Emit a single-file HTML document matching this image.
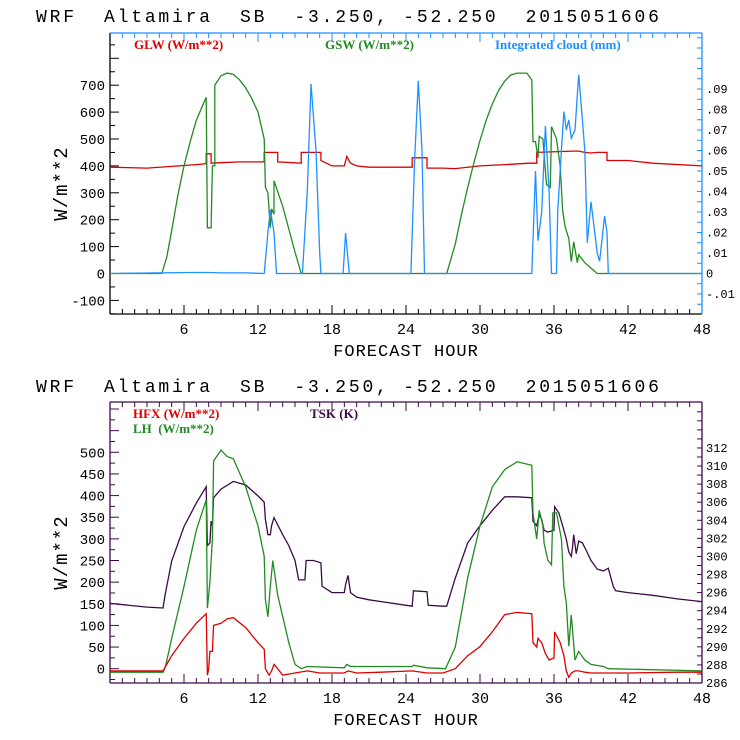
<!DOCTYPE html>
<html><head><meta charset="utf-8"><style>
body{margin:0;background:#fff;width:740px;height:740px;overflow:hidden}
svg{display:block}
.mono{font-family:"Liberation Mono","DejaVu Sans Mono",monospace}
.serif{font-family:"Liberation Serif",serif;font-weight:bold}
</style></head><body>
<svg id="c" width="740" height="740" xmlns="http://www.w3.org/2000/svg"></svg>
<script>
// ---------- data ----------
const hourTicks=[6,12,18,24,30,36,42,48];
const topLeftTicks=[-100,0,100,200,300,400,500,600,700];
const topRightTicks=[-0.01,0,0.01,0.02,0.03,0.04,0.05,0.06,0.07,0.08,0.09];
const topRightLabels=["-.01","0",".01",".02",".03",".04",".05",".06",".07",".08",".09"];
const botLeftTicks=[0,50,100,150,200,250,300,350,400,450,500];
const botRightTicks=[286,288,290,292,294,296,298,300,302,304,306,308,310,312];
const glwHours=[0,3,5,7,7.8,7.8,8.2,8.2,9,10.5,12.5,12.5,13.6,13.6,15.5,15.5,17.1,17.1,18,19,19.2,19.5,20,21,24.5,24.5,25.7,25.7,27,28,30,32,34,34.6,34.6,37.5,38,38.5,39,39.5,40.3,40.3,42,44,48];
const glwVals=[395,392,398,405,408,445,445,410,412,415,415,450,450,415,410,450,450,420,400,400,435,410,400,395,395,430,430,392,392,390,400,405,410,410,450,455,455,450,448,450,450,420,420,410,400];
const gswHours=[0,4.2,4.6,5,5.5,6,6.5,7,7.8,7.9,8.2,8.3,8.5,8.5,9,9.5,10,10.5,11,11.5,12,12.5,12.6,12.8,13,13.1,13.3,13.3,14,15,15.5,27.3,28,28.5,29,29.5,30,30.5,31,31.5,32,32.5,33,33.8,34.2,34.3,34.5,34.7,34.8,35.1,35.2,35.4,35.7,35.8,36.2,36.5,36.7,36.9,37.2,37.4,37.6,37.9,38,38.5,39,39.5,48];
const gswVals=[0,0,60,160,290,400,490,570,655,170,170,400,400,700,735,745,740,720,690,650,600,500,320,300,170,240,220,345,250,80,0,0,110,220,320,410,495,570,630,680,715,738,745,745,720,490,490,430,510,500,440,330,320,546,500,400,236,174,130,44,118,40,70,40,20,0,0];
const cloudHours=[0,6.5,8,9,11,12.5,12.8,13,13.3,13.5,15.6,16,16.3,16.7,17,17.1,18.9,19.1,19.4,24.4,24.7,25,25.3,25.5,34.2,34.5,34.7,35,35.3,35.6,35.8,36.2,36.3,36.6,36.8,37,37.2,37.4,37.7,38,38.3,38.5,38.7,39,39.2,39.5,39.7,40.1,40.3,40.4,48];
const cloudVals=[0,0.0005,0.0005,0.0003,0.0003,0,0.02,0.031,0.02,0,0,0.04,0.0925,0.06,0.01,0,0,0.0197,0,0,0.055,0.094,0.06,0,0,0.05,0.016,0.03,0.072,0.04,0,0,0.03,0.06,0.079,0.07,0.075,0.066,0.07,0.097,0.075,0.06,0.015,0.035,0.025,0.01,0.006,0.028,0.02,0,0];
const hfxHours=[0,4.3,4.5,5,6,7,7.8,7.9,8,8.1,8.3,8.4,9,9.5,10,11,12,12.5,12.6,12.9,13.1,13.3,13.6,14,15,16,17,19,19.3,20,22,24.5,25.7,27,28,29,30,31,32,33,34.2,34.3,34.6,34.7,35,35.3,35.6,36,36.05,36.5,36.8,37,37.2,37.4,37.7,38,38.5,39,42,46,48];
const hfxVals=[-5,-5,5,30,70,105,127,-15,0,40,40,100,105,115,118,95,60,45,0,-15,-5,10,0,-15,-10,-5,-10,-10,-5,-10,-8,-5,-10,-10,0,30,51,85,125,130,127,60,50,70,60,35,20,25,85,60,30,-5,-20,-10,-5,-5,-8,-10,-10,-8,-8];
const lhHours=[0,4.3,4.5,5,6,7,7.8,7.9,8.1,8.3,8.4,9,9.5,10,11,12,12.5,12.6,12.8,13,13.2,13.6,14.5,15,15.5,16,19,19.2,19.5,24.5,24.6,25.7,27.2,28,29,30,31,32,33,34.2,34.3,34.6,34.8,35.1,35.2,35.5,35.8,35.9,36.2,36.6,36.8,37,37.2,37.4,37.7,38,38.5,39,40,40.4,48];
const lhVals=[-8,-8,5,70,190,320,390,140,200,300,480,505,490,485,420,330,260,160,120,190,250,170,60,10,0,5,2,10,5,5,8,2,0,50,210,330,420,460,478,470,359,300,366,330,290,251,240,360,360,300,190,152,52,124,20,40,20,10,5,0,-5];
const tskHours=[0,3,4.3,4.5,5,6,7,7.8,7.9,8.1,8.2,8.3,8.4,9,10,11,12,12.5,12.6,12.8,13,13.1,13.3,14,14.5,15,15.3,15.8,15.9,16.5,17.1,17.2,18,19,19.1,19.3,19.5,20,21,22,24.5,24.6,25.7,25.8,27,27.3,28,29,30,31,32,33,34.2,34.3,34.6,34.8,35,35.2,35.5,36,36.05,36.4,36.8,37,37.2,37.4,37.5,37.6,37.8,38,38.3,38.6,39,39.5,40,40.4,40.8,41,42,44,46,48];
const tskVals=[294.8,294.4,294.3,296.0,299.5,303.3,305.9,307.7,301.2,301.5,303.9,303.4,306.5,307.45,308.3,307.9,306.7,306.0,304.1,302.4,302.4,303.4,304.3,302.4,301.2,299.55,297.4,297.4,299.55,299.55,299.3,296.7,296.0,296.0,296.9,297.9,296.0,295.5,295.2,295.0,294.5,296.2,296.1,294.6,294.5,294.5,297.6,301.5,303.4,305.1,306.6,306.6,306.5,303.9,303.4,304.6,304.1,302.9,302.7,302.9,305.5,304.8,302.9,301.9,300.5,300.0,301.0,302.4,300.3,301.7,301.5,300.7,299.55,298.6,298.4,298.7,296.7,296.2,296.0,295.7,295.3,295.0];

// ---------- drawing ----------
const svg=document.getElementById('c');
const NS='http://www.w3.org/2000/svg';
function mk(tag,attrs,parent){const e=document.createElementNS(NS,tag);for(const k in attrs)e.setAttribute(k,attrs[k]);(parent||svg).appendChild(e);return e;}
const X0=110,X1=702;
const xs=h=>X0+(X1-X0)*h/48;

function txt(x,y,s,cls,fill,size,anchor,ls){const t=mk('text',{x:x,y:y,'class':cls,fill:fill,'font-size':size,'text-anchor':anchor||'start'});if(ls)t.setAttribute('letter-spacing',ls);t.textContent=s;return t;}

function line(hours,vals,sy,color,name,g){
  let d='';for(let i=0;i<hours.length;i++){d+=(i?'L':'M')+xs(hours[i]).toFixed(1)+' '+sy(vals[i]).toFixed(1);}
  const p=mk('path',{d:d,fill:'none',stroke:color,'stroke-width':1.3},g);
  
  
}

function panel(cfg){
  const g=mk('g',{});
  
  
  const t=txt(36,cfg.titleY,'WRF  Altamira  SB  -3.250, -52.250  2015051606','mono','#000',18,'start',2.8);
  t.setAttribute('xml:space','preserve');t.style.whiteSpace='pre';
  
  g.appendChild(t);
  const Y0=cfg.top,Y1=cfg.bottom;
  for(let h=1;h<48;h++){const L=h%6===0?9:5;
    mk('line',{x1:xs(h),x2:xs(h),y1:Y1,y2:Y1-L,stroke:cfg.botColor,'stroke-width':1},g);
    mk('line',{x1:xs(h),x2:xs(h),y1:Y0,y2:Y0+L,stroke:cfg.topColor,'stroke-width':1},g);}
  hourTicks.forEach(h=>{const e=txt(xs(h),Y1+20,String(h),'mono','#000',15,'middle');g.appendChild(e);});
  for(let v=cfg.lmin;v<=cfg.lmax+1e-6;v+=cfg.lminor){const y=cfg.sy(v);if(y<Y0||y>Y1)continue;const maj=Math.abs(v/cfg.lmajor-Math.round(v/cfg.lmajor))<1e-6;
    mk('line',{x1:X0,x2:X0+(maj?9:5),y1:y,y2:y,stroke:cfg.leftColor},g);}
  cfg.lticks.forEach(v=>{const e=txt(X0-5,cfg.sy(v)+5,String(v),'mono','#000',14,'end');g.appendChild(e);});
  for(let v=cfg.rmin;v<=cfg.rmax+1e-9;v+=cfg.rminor){const y=cfg.ry(v);if(y<Y0||y>Y1)continue;mk('line',{x1:X1,x2:X1-5,y1:y,y2:y,stroke:cfg.rightColor},g);}
  cfg.rticks.forEach((v,i)=>{const e=txt(X1+4,cfg.ry(v)+4,cfg.rlabels?cfg.rlabels[i]:String(v),'mono','#000',12,'start');g.appendChild(e);});
  mk('line',{x1:X0,x2:X0,y1:Y0,y2:Y1,stroke:cfg.leftColor,'stroke-width':1.3},g);
  mk('line',{x1:X0,x2:X1,y1:Y1,y2:Y1,stroke:cfg.botColor,'stroke-width':1.3},g);
  mk('line',{x1:X1,x2:X1,y1:Y0,y2:Y1,stroke:cfg.rightColor,'stroke-width':1.3},g);
  mk('line',{x1:X0,x2:X1,y1:Y0,y2:Y0,stroke:cfg.topColor,'stroke-width':1.3},g);
  const xt=txt(406,Y1+42,'FORECAST HOUR','mono','#000',17,'middle',1);
  g.appendChild(xt);
  const yt=txt(0,0,'W/m**2','mono','#000',19,'middle',1);
  yt.setAttribute('transform','translate(67,'+((Y0+Y1)/2+10)+') rotate(-90)');
  g.appendChild(yt);
  return g;
}

const tTop=33,tBot=314;
const syT=v=>273.5-v*0.269;
const ryT=v=>273.5-v*2050;
const g1=panel({name:'top-panel',titleY:22,top:tTop,bottom:tBot,sy:syT,ry:ryT,lmin:-150,lmax:880,lminor:50,lmajor:100,lticks:topLeftTicks,rmin:-0.015,rmax:0.115,rminor:0.005,rticks:topRightTicks,rlabels:topRightLabels,leftColor:'#000',botColor:'#000',rightColor:'#1e90ff',topColor:'#1e90ff'});
const clip1=mk('clipPath',{id:'cp1'});mk('rect',{x:X0,y:tTop,width:X1-X0,height:tBot-tTop},clip1);
const s1=mk('g',{'clip-path':'url(#cp1)'},g1);
line(glwHours,glwVals,syT,'#dd0000','glw-line',s1);
line(gswHours,gswVals,syT,'#228b22','gsw-line',s1);
line(cloudHours,cloudVals,ryT,'#1e90ff','cloud-line',s1);
[[134,49,'GLW (W/m**2)','#dd0000','legend-glw'],[325,49,'GSW (W/m**2)','#228b22','legend-gsw'],[495,49,'Integrated cloud (mm)','#1e90ff','legend-cloud']].forEach(a=>{const e=txt(a[0],a[1],a[2],'serif',a[3],13,'start');g1.appendChild(e);});

const bTop=402,bBot=683;
const syB=v=>668.7-v*0.4328;
const ryB=k=>683-(k-286)*9.04;
const g2=panel({name:'bottom-panel',titleY:392,top:bTop,bottom:bBot,sy:syB,ry:ryB,lmin:-50,lmax:650,lminor:25,lmajor:50,lticks:botLeftTicks,rmin:286,rmax:316,rminor:1,rticks:botRightTicks,leftColor:'#3c0a46',botColor:'#3c0a46',rightColor:'#3c0a46',topColor:'#3c0a46'});
const clip2=mk('clipPath',{id:'cp2'});mk('rect',{x:X0,y:bTop,width:X1-X0,height:bBot-bTop},clip2);
const s2=mk('g',{'clip-path':'url(#cp2)'},g2);
line(tskHours,tskVals,ryB,'#3c0a46','tsk-line',s2);
line(lhHours,lhVals,syB,'#228b22','lh-line',s2);
line(hfxHours,hfxVals,syB,'#dd0000','hfx-line',s2);
[[133,418,'HFX (W/m**2)','#dd0000','legend-hfx'],[133,433,'LH  (W/m**2)','#228b22','legend-lh'],[310,418,'TSK (K)','#3c0a46','legend-tsk']].forEach(a=>{const e=txt(a[0],a[1],a[2],'serif',a[3],13,'start');e.style.whiteSpace='pre';g2.appendChild(e);});
</script>
</body></html>
